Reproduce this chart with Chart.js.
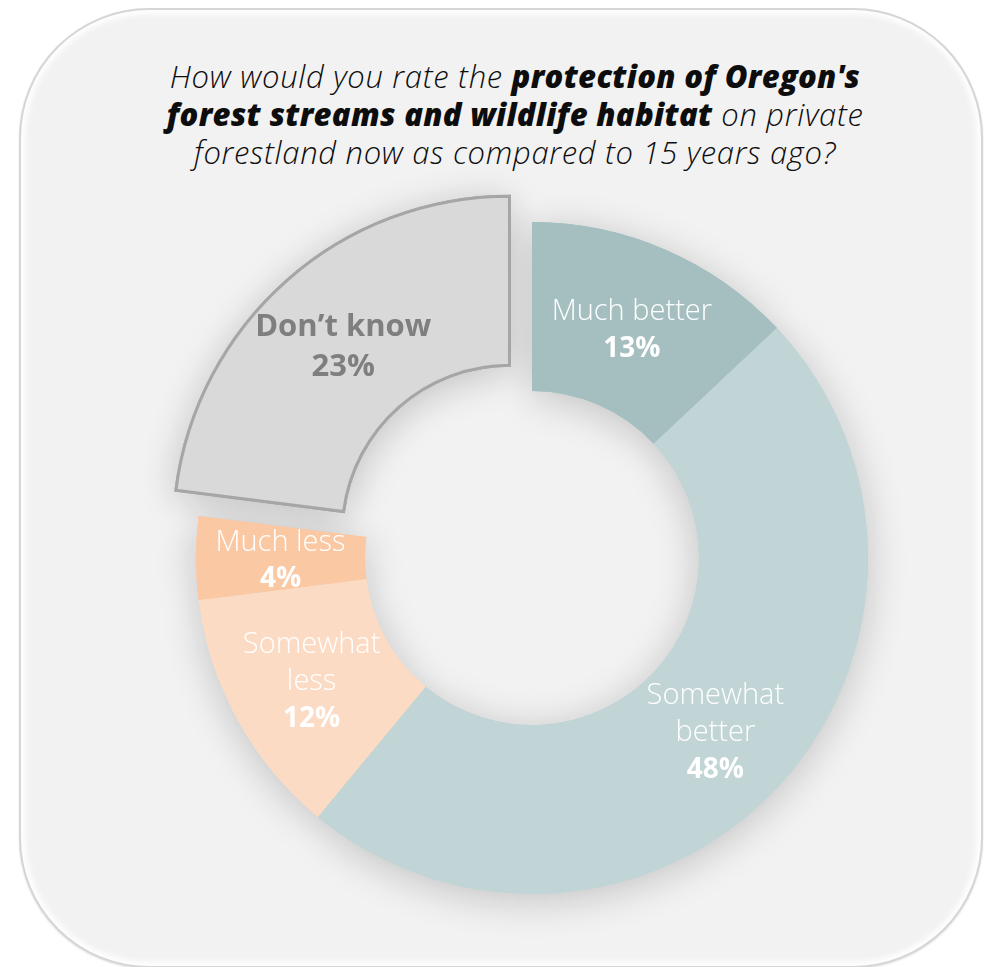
<!DOCTYPE html>
<html>
<head>
<meta charset="utf-8">
<script src="https://cdn.jsdelivr.net/npm/chart.js@4.4.1/dist/chart.umd.min.js"></script>
<style>
  html, body { margin: 0; padding: 0; background: #ffffff; }
  body { width: 992px; height: 967px; position: relative; overflow: hidden; font-family: "Open Sans", Lato, sans-serif; }
  .card {
    position: absolute; left: 19px; top: 8px; width: 960px; height: 956px;
    border-radius: 130px;
    background: #f2f2f2;
    border: 2px solid #d6d6d6;
    box-shadow: inset 0 0 6px 4px #ffffff, 0 1px 2px rgba(0,0,0,0.12);
  }
  .title {
    position: absolute; left: 40px; top: 57px; width: 950px;
    text-align: center; font-size: 31px; line-height: 38px; letter-spacing: 0.7px;
    font-style: italic; font-weight: 300; color: #0d0d0d;
  }
  .title b { font-weight: 800; letter-spacing: 0.3px; }
  #chart { position: absolute; left: 0; top: 0; }
</style>
</head>
<body>
<div class="card"></div>
<div class="title">How would you rate the <b>protection of Oregon's</b><br><b>forest streams and wildlife habitat</b> on private<br>forestland now as compared to 15 years ago?</div>
<canvas id="chart" width="992" height="967"></canvas>
<script>
// survey answers, clockwise from 12 o'clock
const categories = ['Much better', 'Somewhat better', 'Somewhat less', 'Much less', "Don't know"];
const labelLines = [['Much better'], ['Somewhat', 'better'], ['Somewhat', 'less'], ['Much less'], ['Don\u2019t know']];
const percents = [13, 48, 12, 4, 23];
const sliceColors = ['#a5bfc0', '#c1d4d6', '#fcdbc4', '#fbc8a4', '#d9d9d9'];
const borderColors = ['#a5bfc0', '#c1d4d6', '#fcdbc4', '#fbc8a4', '#a6a6a6'];
const borderWidths = [0, 0, 0, 0, 3];
// chart.js moves an arc by offset / 4
const sliceOffsets = [0, 0, 0, 0, 136];

// soft drop shadow under the ring, drawn before the real arcs cover it
const ringShadow = {
    id: 'ringShadow',
    beforeDatasetsDraw(chart) {
        const ctx = chart.ctx;
        ctx.save();
        ctx.shadowColor = 'rgba(0,0,0,0.2)';
        ctx.shadowBlur = 40;
        ctx.shadowOffsetY = 6;
        chart.getDatasetMeta(0).data.forEach(arc => arc.draw(ctx));
        ctx.restore();
    }
};

// name + percentage written inside each slice
const sliceLabels = {
    id: 'sliceLabels',
    afterDatasetsDraw(chart) {
        const ctx = chart.ctx;
        const meta = chart.getDatasetMeta(0);
        ctx.save();
        ctx.textAlign = 'center';
        ctx.textBaseline = 'middle';
        meta.data.forEach((arc, i) => {
            const p = arc.getProps(['x', 'y', 'startAngle', 'endAngle', 'innerRadius', 'outerRadius'], true);
            const mid = (p.startAngle + p.endAngle) / 2;
            const r = (p.innerRadius + p.outerRadius) / 2 + sliceOffsets[i] / 4;
            const cx = p.x + Math.cos(mid) * r;
            const cy = p.y + Math.sin(mid) * r + 3;
            const grey = i === 4;
            const lines = labelLines[i];
            const lh = grey ? 40 : 37;
            let y = cy - lines.length * lh / 2;
            ctx.fillStyle = grey ? '#7f7f7f' : '#ffffff';
            ctx.font = grey ? '700 31px "Open Sans"' : '300 29px "Open Sans"';
            lines.forEach(t => {
                ctx.fillText(t, cx, y);
                y += lh;
            });
            ctx.font = grey ? '700 31px "Open Sans"' : '700 28px "Open Sans"';
            ctx.fillText(percents[i] + '%', cx, y);
        });
        ctx.restore();
    }
};

new Chart(document.getElementById('chart'), {
    type: 'doughnut',
    data: {
        labels: categories,
        datasets: [{
            data: percents,
            backgroundColor: sliceColors,
            borderColor: borderColors,
            borderWidth: borderWidths,
            borderJoinStyle: 'miter',
            offset: sliceOffsets,
            clip: false
        }]
    },
    options: {
        responsive: false,
        animation: false,
        radius: 336,
        cutout: '49.7%',
        layout: { padding: { left: 100, right: 28, top: 230, bottom: 81 } },
        plugins: {
            legend: { display: false },
            tooltip: { enabled: false }
        }
    },
    plugins: [ringShadow, sliceLabels]
});
</script>
</body>
</html>
